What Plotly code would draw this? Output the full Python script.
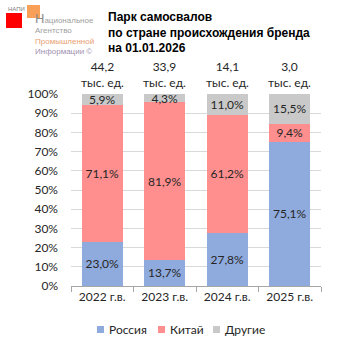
import plotly.graph_objects as go

categories = ["2022 г.в.", "2023 г.в.", "2024 г.в.", "2025 г.в."]
russia = [23.0, 13.7, 27.8, 75.1]
china = [71.1, 81.9, 61.2, 9.4]
other = [5.9, 4.3, 11.0, 15.5]
totals = ["44,2", "33,9", "14,1", "3,0"]
series_names = ["Россия", "Китай", "Другие"]
series_colors = ["#8FAADC", "#FF8F8F", "#C9C9C9"]
y_ticks = [0, 10, 20, 30, 40, 50, 60, 70, 80, 90, 100]

FONT = "Lato"
FS = 12
TXT = "#262626"

def fmt(v):
    return f"{v:.1f}".replace(".", ",") + "%"

def px(x):
    return (x - 71) / 250

def py(y):
    return (286 - y) / 192

fig = go.Figure()
for name, vals, col in zip(series_names, [russia, china, other], series_colors):
    fig.add_trace(go.Bar(
        x=categories, y=vals, name=name, marker=dict(color=col, line=dict(width=0)),
        text=[fmt(v) for v in vals], textposition="inside", insidetextanchor="middle",
        textfont=dict(family=FONT, size=FS, color=TXT), textangle=0,
        constraintext="none", cliponaxis=False, showlegend=False,
    ))

for c, t in zip(categories, totals):
    fig.add_annotation(x=c, y=1, xref="x", yref="paper", yanchor="bottom", yshift=2,
                       text=f"{t}<br>тыс. ед.", showarrow=False,
                       font=dict(family=FONT, size=FS, color=TXT))

# Title
fig.add_annotation(xref="paper", yref="paper", x=px(106), y=py(8),
                   xanchor="left", yanchor="top", align="left", showarrow=False,
                   text="<b>Парк самосвалов<br>по стране происхождения бренда<br>на 01.01.2026</b>",
                   font=dict(family="Liberation Sans", size=12, color="#000000"))

# Logo
fig.add_shape(type="rect", xref="paper", yref="paper", x0=px(6), x1=px(22), y0=py(28), y1=py(13),
              fillcolor="#FF0000", line=dict(width=0))
fig.add_shape(type="rect", xref="paper", yref="paper", x0=px(27), x1=px(40), y0=py(18), y1=py(5),
              fillcolor="#F79646", line=dict(width=0), opacity=0.9)
fig.add_annotation(xref="paper", yref="paper", x=px(6), y=py(4), xanchor="left", yanchor="top",
                   text="НАПИ", showarrow=False, font=dict(family="Liberation Sans", size=6, color="#808080"))
fig.add_annotation(xref="paper", yref="paper", x=px(33), y=py(9), xanchor="left", yanchor="top",
                   align="left", showarrow=False,
                   text=("<span style='font-size:13px;color:#8C8C8C'>Н</span>"
                         "<span style='color:#A0A0A0'>ациональное</span><br>"
                         "<span style='color:#A0A0A0'>Агентство</span><br>"
                         "<span style='color:#E8A070'>Промышленной</span><br>"
                         "<span style='color:#A090B0'>Информации ©</span>"),
                   font=dict(family="Liberation Sans Narrow, Liberation Sans", size=8, color="#A0A0A0"))

# Legend (manual)
leg_x = [97, 158, 213]
for name, col, x0 in zip(series_names, series_colors, leg_x):
    fig.add_shape(type="rect", xref="paper", yref="paper", x0=px(x0), x1=px(x0 + 7),
                  y0=py(333), y1=py(326), fillcolor=col, line=dict(width=0))
    fig.add_annotation(xref="paper", yref="paper", x=px(x0 + 10), y=py(329.5), xanchor="left",
                       yanchor="middle", text=name, showarrow=False,
                       font=dict(family=FONT, size=FS, color=TXT))

fig.update_layout(
    barmode="stack", bargap=0.35,
    width=353, height=353, margin=dict(l=71, r=32, t=94, b=67),
    paper_bgcolor="white", plot_bgcolor="white",
    font=dict(family=FONT, size=FS, color=TXT),
    showlegend=False,
)
fig.update_yaxes(range=[0, 100], tickvals=y_ticks, ticktext=[f"{v}%" for v in y_ticks],
                 showgrid=True, gridcolor="#D9D9D9", gridwidth=1, zeroline=False,
                 showline=False, ticks="", ticklabelstandoff=12,
                 tickfont=dict(family=FONT, size=FS, color=TXT))
fig.update_xaxes(showline=True, linecolor="#A6A6A6", linewidth=1, ticks="outside",
                 tickson="boundaries", ticklen=5, tickcolor="#A6A6A6",
                 tickfont=dict(family=FONT, size=FS, color=TXT))

fig.write_html("out.html")
